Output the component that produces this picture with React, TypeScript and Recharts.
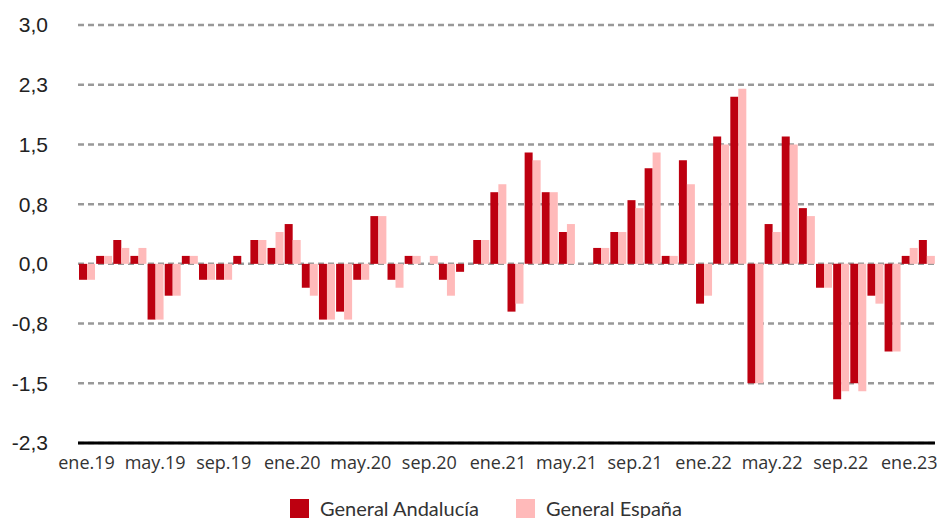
import { BarChart, Bar, XAxis, YAxis, CartesianGrid, Legend } from 'recharts';

const monthNames = ['ene', 'feb', 'mar', 'abr', 'may', 'jun', 'jul', 'ago', 'sep', 'oct', 'nov', 'dic'];
const years = ['19', '20', '21', '22', '23'];

// ene.19 .. feb.23
const categories = years
  .flatMap((y) => monthNames.map((m) => `${m}.${y}`))
  .slice(0, 50);

const andalucia = [
  -0.2, 0.1, 0.3, 0.1, -0.7, -0.4, 0.1, -0.2, -0.2, 0.1, 0.3, 0.2,
  0.5, -0.3, -0.7, -0.6, -0.2, 0.6, -0.2, 0.1, 0, -0.2, -0.1, 0.3,
  0.9, -0.6, 1.4, 0.9, 0.4, 0, 0.2, 0.4, 0.8, 1.2, 0.1, 1.3,
  -0.5, 1.6, 2.1, -1.5, 0.5, 1.6, 0.7, -0.3, -1.7, -1.5, -0.4, -1.1,
  0.1, 0.3,
];

const espana = [
  -0.2, 0.1, 0.2, 0.2, -0.7, -0.4, 0.1, -0.2, -0.2, 0, 0.3, 0.4,
  0.3, -0.4, -0.7, -0.7, -0.2, 0.6, -0.3, 0.1, 0.1, -0.4, 0, 0.3,
  1.0, -0.5, 1.3, 0.9, 0.5, 0, 0.2, 0.4, 0.7, 1.4, 0.1, 1.0,
  -0.4, 1.5, 2.2, -1.5, 0.4, 1.5, 0.6, -0.3, -1.6, -1.6, -0.5, -1.1,
  0.2, 0.1,
];

const yTicks = [-2.25, -1.5, -0.75, 0, 0.75, 1.5, 2.25, 3];

const DARK = '#BD0010';
const PINK = '#FFBABA';

const data = categories.map((mes, i) => ({
  mes,
  andalucia: andalucia[i],
  espana: espana[i],
}));

const fmtY = (v: number) => v.toFixed(1).replace('.', ',');

function LegendBox({ payload }: any) {
  return (
    <div
      style={{
        display: 'flex',
        justifyContent: 'flex-start',
        fontFamily: 'Lato',
        fontSize: 20,
        lineHeight: '19px',
        color: '#333',
        paddingLeft: 290,
      }}
    >
      {(payload || []).map((p: any, i: number) => (
        <div key={p.value} style={{ display: 'flex', alignItems: 'flex-end', marginLeft: i ? 37 : 0 }}>
          <span style={{ width: 19, height: 19, background: p.color, display: 'inline-block', marginRight: 11 }} />
          <span>{p.value}</span>
        </div>
      ))}
    </div>
  );
}

export default function App() {
  return (
    <div style={{ position: 'absolute', left: 0, top: 0, background: '#fff' }}>
      <BarChart
        width={937}
        height={518}
        data={data}
        margin={{ top: 25, right: 2, bottom: 45, left: 0 }}
        barCategoryGap={1}
        barGap={0}
      >
        <CartesianGrid vertical={false} stroke="#999" strokeWidth={2.5} strokeDasharray="6 4" />
        <XAxis
          dataKey="mes"
          interval={3}
          height={30}
          tickLine={false}
          tickSize={0}
          tickMargin={13}
          axisLine={{ stroke: '#000', strokeWidth: 3 }}
          tick={{ fill: '#333', fontSize: 18, fontFamily: 'Open Sans' }}
        />
        <YAxis
          width={78}
          domain={[-2.25, 3]}
          ticks={yTicks}
          tickFormatter={fmtY}
          axisLine={false}
          tickLine={false}
          tickSize={0}
          tickMargin={30}
          tick={{ fill: '#222', fontSize: 21, fontFamily: 'Liberation Sans' }}
        />
        <Legend
          verticalAlign="middle"
          content={<LegendBox />}
          wrapperStyle={{ top: 499, left: 0, width: 937 }}
        />
        <Bar dataKey="andalucia" name="General Andalucía" fill={DARK} isAnimationActive={false} />
        <Bar dataKey="espana" name="General España" fill={PINK} isAnimationActive={false} />
      </BarChart>
    </div>
  );
}
